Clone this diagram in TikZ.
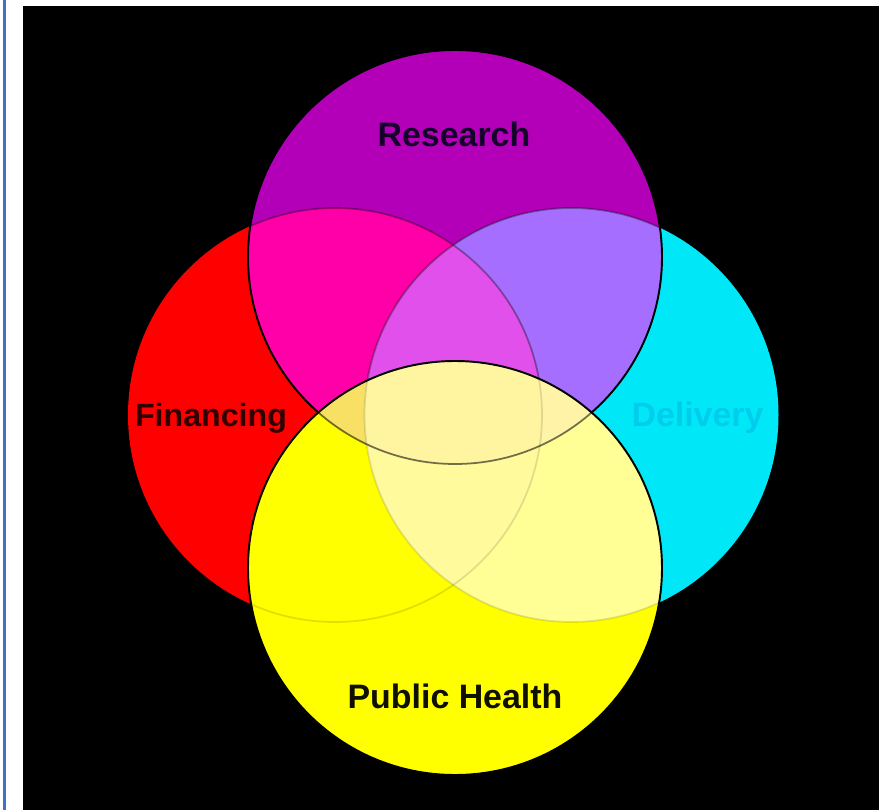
\documentclass[tikz,border=0pt]{standalone}
\usepackage{fontspec}
\setmainfont{Liberation Sans}
\definecolor{cR}{HTML}{FF0000}
\definecolor{cC}{HTML}{00E8F8}
\definecolor{cM}{HTML}{B300B8}
\definecolor{cMR}{HTML}{FF00A8}
\definecolor{cMC}{HTML}{A66EFF}
\definecolor{cMRC}{HTML}{E150EB}
\definecolor{cY}{HTML}{FFFF00}
\definecolor{cYC}{HTML}{FFFF96}
\definecolor{cYRC}{HTML}{FFFA9C}
\definecolor{cYMR}{HTML}{F8E064}
\definecolor{cYMC}{HTML}{FFF3A8}
\definecolor{cYMRC}{HTML}{FFF5A0}
\definecolor{cBlue}{HTML}{4470C4}
\definecolor{tM}{HTML}{14002A}
\definecolor{tR}{HTML}{300000}
\definecolor{tC}{HTML}{00CDEB}
\definecolor{tY}{HTML}{101000}
\begin{document}
\begin{tikzpicture}[x=0.02cm,y=-0.02cm,
  outline/.style={draw=black,line width=1.1pt},
  faint/.style={draw=black,line width=1pt},
  lbl/.style={anchor=base,inner sep=0pt,font=\fontsize{19.3pt}{23pt}\selectfont\bfseries}]
\def\circR{(335,415) circle[radius=207]}
\def\circC{(571.5,415) circle[radius=207]}
\def\circM{(455,257) circle[radius=207]}
\def\circY{(455,568) circle[radius=207]}
\useasboundingbox (0,0) rectangle (879,810);
\fill[white] (0,0) rectangle (879,810);
\fill[cBlue] (2.8,0) rectangle (5.8,810);
\fill[black] (23,6) rectangle (879,810);
% base circles
\fill[cR] \circR;
\fill[cC] \circC;
% research layer
\fill[cM] \circM;
\begin{scope}
  \clip \circM;
  \fill[cMR] \circR;
  \fill[cMC] \circC;
  \begin{scope}
    \clip \circR;
    \fill[cMRC] \circC;
  \end{scope}
  \draw[faint,opacity=0.35] \circR;
  \draw[faint,opacity=0.35] \circC;
\end{scope}
\draw[outline] \circM;
% public health layer
\fill[cY] \circY;
\begin{scope}
  \clip \circY;
  \fill[cYC] \circC;
  \begin{scope}
    \clip \circR;
    \fill[cYRC] \circC;
  \end{scope}
  \begin{scope}
    \clip \circM;
    \fill[cYMR] \circR;
    \fill[cYMC] \circC;
    \clip \circR;
    \fill[cYMRC] \circC;
  \end{scope}
  \draw[faint,opacity=0.12] \circR;
  \draw[faint,opacity=0.12] \circC;
  \draw[faint,opacity=0.55] \circM;
\end{scope}
\draw[outline] \circY;
% labels
\node[lbl,text=tM] (research) at (454,147) {Research};
\node[lbl,text=tR,font=\fontsize{18.3pt}{22pt}\selectfont\bfseries] (financing) at (211,427) {Financing};
\node[lbl,text=tC] (delivery) at (697.5,427) {Delivery};
\node[lbl,text=tY] (publichealth) at (455,708) {Public Health};
\end{tikzpicture}
\end{document}
